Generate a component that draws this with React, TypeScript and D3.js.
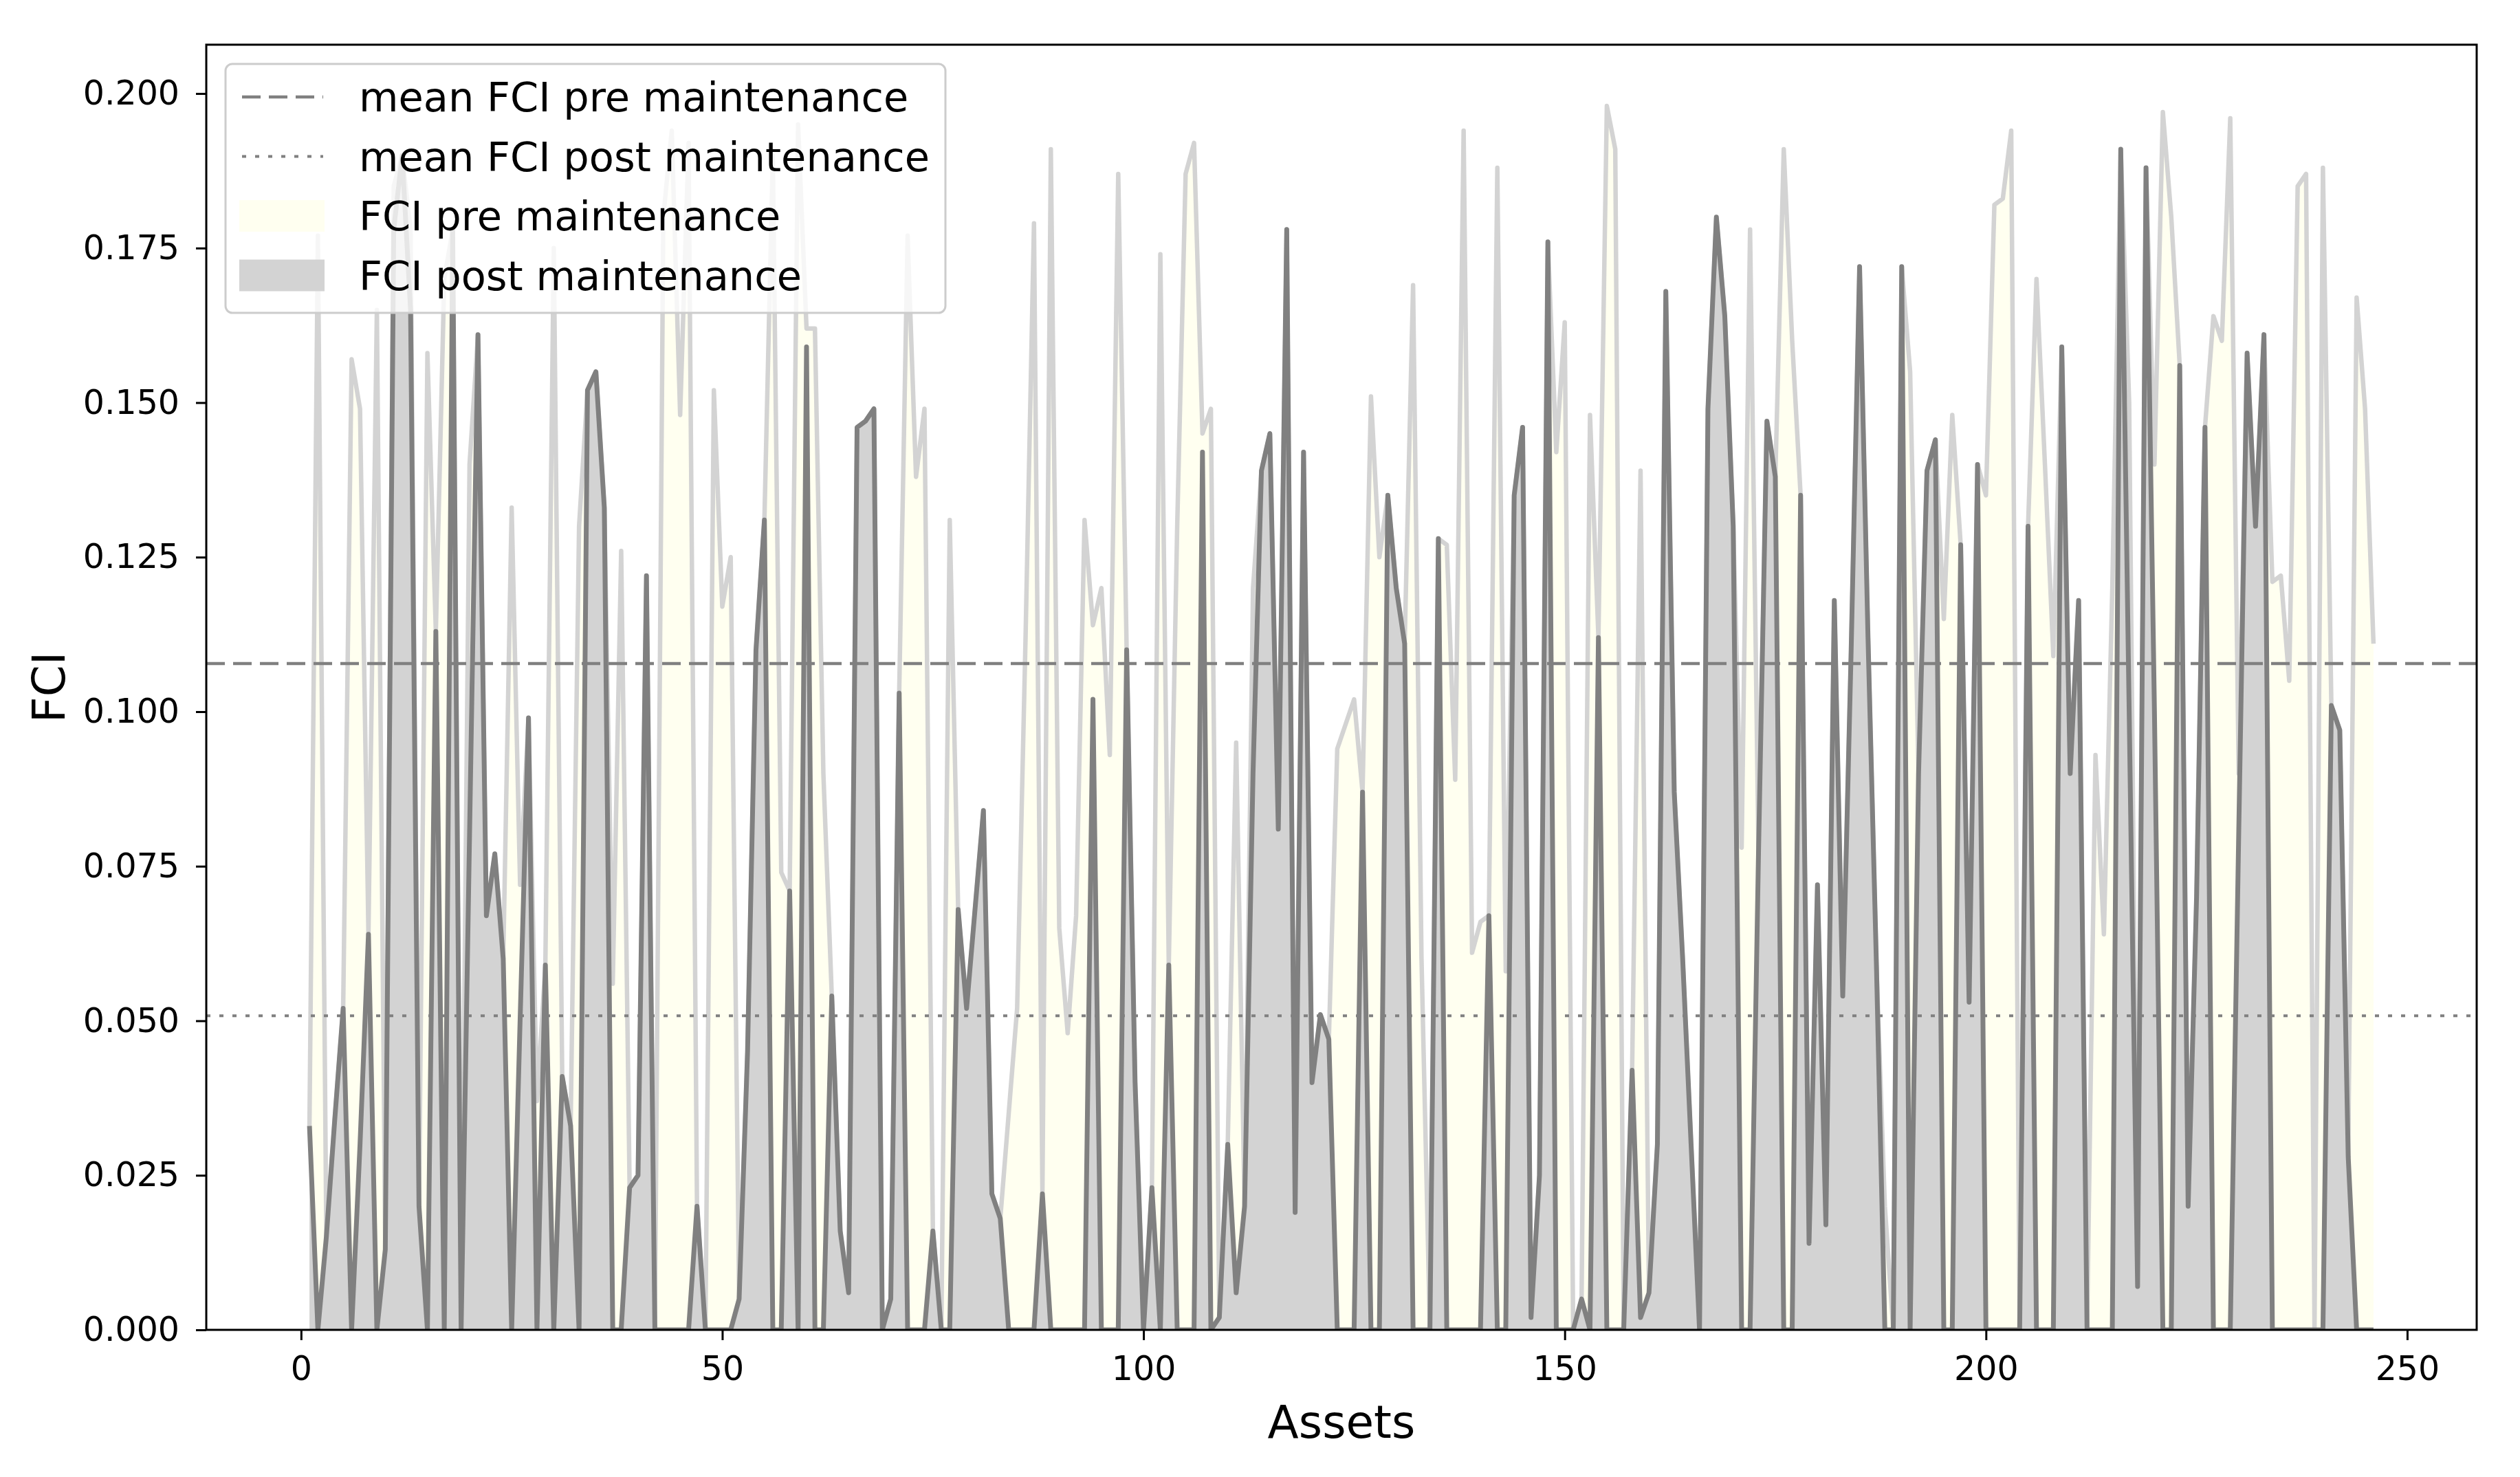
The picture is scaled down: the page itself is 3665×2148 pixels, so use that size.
import { useEffect, useRef } from "react";
import * as d3 from "d3";

const WIDTH = 3665;
const HEIGHT = 2148;
const MARGIN = { top: 65, right: 63, bottom: 214, left: 300 };

// FCI per asset (asset ids start at 1)
const FCI_PRE = [
  0.033, 0.177, 0.015, 0.034, 0.052, 0.157, 0.149, 0.064, 0.165, 0.013,
  0.185, 0.19, 0.178, 0.02, 0.158, 0.113, 0.17, 0.178, 0, 0.14,
  0.161, 0.067, 0.077, 0.06, 0.133, 0.072, 0.099, 0.037, 0.059, 0.175,
  0.041, 0.033, 0.13, 0.152, 0.155, 0.133, 0.056, 0.126, 0.023, 0.025,
  0.122, 0, 0.18, 0.194, 0.148, 0.192, 0.02, 0, 0.152, 0.117,
  0.125, 0.005, 0.045, 0.11, 0.131, 0.19, 0.074, 0.071, 0.195, 0.162,
  0.162, 0.09, 0.054, 0.016, 0.006, 0.146, 0.147, 0.149, 0, 0.005,
  0.103, 0.177, 0.138, 0.149, 0.016, 0, 0.131, 0.068, 0.052, 0.068,
  0.084, 0.022, 0.018, 0.035, 0.052, 0.112, 0.179, 0.022, 0.191, 0.065,
  0.048, 0.067, 0.131, 0.114, 0.12, 0.093, 0.187, 0.11, 0.04, 0,
  0.023, 0.174, 0.059, 0.13, 0.187, 0.192, 0.145, 0.149, 0.002, 0.03,
  0.095, 0.02, 0.12, 0.139, 0.145, 0.081, 0.178, 0.019, 0.142, 0.04,
  0.051, 0.047, 0.094, 0.098, 0.102, 0.087, 0.151, 0.125, 0.135, 0.12,
  0.111, 0.169, 0.06, 0, 0.128, 0.127, 0.089, 0.194, 0.061, 0.066,
  0.067, 0.188, 0.058, 0.135, 0.146, 0.002, 0.025, 0.176, 0.142, 0.163,
  0, 0.005, 0.148, 0.112, 0.198, 0.191, 0, 0.042, 0.139, 0.006,
  0.03, 0.168, 0.087, 0.06, 0.03, 0, 0.149, 0.18, 0.164, 0.13,
  0.078, 0.178, 0.077, 0.147, 0.138, 0.191, 0.16, 0.135, 0.014, 0.072,
  0.017, 0.118, 0.054, 0.11, 0.172, 0.112, 0.059, 0.02, 0, 0.172,
  0.155, 0.09, 0.139, 0.144, 0.115, 0.148, 0.127, 0.053, 0.14, 0.135,
  0.182, 0.183, 0.194, 0, 0.13, 0.17, 0.14, 0.109, 0.159, 0.09,
  0.118, 0, 0.093, 0.064, 0.12, 0.191, 0.15, 0.007, 0.188, 0.14,
  0.197, 0.18, 0.156, 0.02, 0.07, 0.146, 0.164, 0.16, 0.196, 0.09,
  0.158, 0.13, 0.161, 0.121, 0.122, 0.105, 0.185, 0.187, 0, 0.188,
  0.101, 0.097, 0.028, 0.167, 0.149, 0.111,
];

const FCI_POST = [
  0.033, 0, 0.015, 0.034, 0.052, 0, 0.03, 0.064, 0, 0.013,
  0.178, 0.19, 0.165, 0.02, 0, 0.113, 0, 0.178, 0, 0.08,
  0.161, 0.067, 0.077, 0.06, 0, 0.05, 0.099, 0, 0.059, 0,
  0.041, 0.033, 0, 0.152, 0.155, 0.133, 0, 0, 0.023, 0.025,
  0.122, 0, 0, 0, 0, 0, 0.02, 0, 0, 0,
  0, 0.005, 0.045, 0.11, 0.131, 0, 0, 0.071, 0, 0.159,
  0, 0, 0.054, 0.016, 0.006, 0.146, 0.147, 0.149, 0, 0.005,
  0.103, 0, 0, 0, 0.016, 0, 0, 0.068, 0.052, 0.068,
  0.084, 0.022, 0.018, 0, 0, 0, 0, 0.022, 0, 0,
  0, 0, 0, 0.102, 0, 0, 0, 0.11, 0.04, 0,
  0.023, 0, 0.059, 0, 0, 0, 0.142, 0, 0.002, 0.03,
  0.006, 0.02, 0.09, 0.139, 0.145, 0.081, 0.178, 0.019, 0.142, 0.04,
  0.051, 0.047, 0, 0, 0, 0.087, 0, 0, 0.135, 0.12,
  0.111, 0, 0, 0, 0.128, 0, 0, 0, 0, 0,
  0.067, 0, 0, 0.135, 0.146, 0.002, 0.025, 0.176, 0, 0,
  0, 0.005, 0, 0.112, 0, 0, 0, 0.042, 0.002, 0.006,
  0.03, 0.168, 0.087, 0.06, 0.03, 0, 0.149, 0.18, 0.164, 0.13,
  0, 0, 0.077, 0.147, 0.138, 0, 0, 0.135, 0.014, 0.072,
  0.017, 0.118, 0.054, 0.11, 0.172, 0.112, 0.059, 0, 0, 0.172,
  0, 0.09, 0.139, 0.144, 0, 0, 0.127, 0.053, 0.14, 0,
  0, 0, 0, 0, 0.13, 0, 0, 0, 0.159, 0.09,
  0.118, 0, 0, 0, 0, 0.191, 0.1, 0.007, 0.188, 0.1,
  0, 0, 0.156, 0.02, 0.07, 0.146, 0, 0, 0, 0.08,
  0.158, 0.13, 0.161, 0, 0, 0, 0, 0, 0, 0,
  0.101, 0.097, 0.028, 0, 0, 0,
];

const MEAN_PRE = 0.1078;
const MEAN_POST = 0.0508;

const X_TICKS = [0, 50, 100, 150, 200, 250];
const Y_TICKS = [0, 0.025, 0.05, 0.075, 0.1, 0.125, 0.15, 0.175, 0.2];

const LEGEND_ITEMS = [
  { label: "mean FCI pre maintenance", kind: "dashed" },
  { label: "mean FCI post maintenance", kind: "dotted" },
  { label: "FCI pre maintenance", kind: "prePatch" },
  { label: "FCI post maintenance", kind: "postPatch" },
];

const FONT = "DejaVu Sans, Verdana, sans-serif";
const PRE_FILL = "#fffff0";
const PRE_LINE = "#d3d3d3";
const POST_FILL = "#d3d3d3";
const POST_LINE = "#808080";
const MEAN_LINE = "#808080";
const DASHED = "27,12";
const DOTTED = "6,13";

type Point = { x: number; y: number };

export default function App() {
  const xAxisRef = useRef<SVGGElement>(null);
  const yAxisRef = useRef<SVGGElement>(null);

  const boundsWidth = WIDTH - MARGIN.left - MARGIN.right;
  const boundsHeight = HEIGHT - MARGIN.top - MARGIN.bottom;

  const pre: Point[] = FCI_PRE.map((v, i) => ({ x: i + 1, y: v }));
  const post: Point[] = FCI_POST.map((v, i) => ({ x: i + 1, y: v }));

  // matplotlib style 5% x margins, y from 0 with 5% headroom
  const n = FCI_PRE.length;
  const pad = (n - 1) * 0.05;
  const xScale = d3
    .scaleLinear()
    .domain([1 - pad, n + pad])
    .range([0, boundsWidth]);
  const yMax = (d3.max(FCI_PRE) || 0) * 1.05;
  const yScale = d3.scaleLinear().domain([0, yMax]).range([boundsHeight, 0]);

  const area = d3
    .area<Point>()
    .x((d) => xScale(d.x))
    .y0(yScale(0))
    .y1((d) => yScale(d.y));
  const line = d3
    .line<Point>()
    .x((d) => xScale(d.x))
    .y((d) => yScale(d.y));

  useEffect(() => {
    const xg = d3.select(xAxisRef.current);
    xg.selectAll("*").remove();
    xg.call(
      d3.axisBottom(xScale).tickValues(X_TICKS).tickSize(15).tickPadding(23).tickFormat(d3.format("d"))
    );
    const yg = d3.select(yAxisRef.current);
    yg.selectAll("*").remove();
    yg.call(
      d3.axisLeft(yScale).tickValues(Y_TICKS).tickSize(15).tickPadding(24).tickFormat(d3.format(".3f"))
    );
    [xg, yg].forEach((g) => {
      g.select(".domain").remove();
      g.selectAll(".tick line").attr("stroke", "#000").attr("stroke-width", 3);
      g.selectAll(".tick text")
        .attr("fill", "#000")
        .style("font-family", FONT)
        .style("font-size", "49px");
    });
  }, [xScale, yScale]);

  const legendX = 328;
  const legendY = 93;
  const rowY = (i: number) => 141 + i * 86.5;

  return (
    <div>
      <style>{`body{margin:0;background:#fff}`}</style>
      <svg width={WIDTH} height={HEIGHT} style={{ display: "block" }}>
        <rect width={WIDTH} height={HEIGHT} fill="#fff" />
        <defs>
          <clipPath id="plot-clip">
            <rect width={boundsWidth} height={boundsHeight} />
          </clipPath>
        </defs>
        <g transform={`translate(${MARGIN.left},${MARGIN.top})`}>
          <g clipPath="url(#plot-clip)">
            <path d={area(pre) || ""} fill={PRE_FILL} />
            <path
              d={line(pre) || ""}
              fill="none"
              stroke={PRE_LINE}
              strokeWidth={6.5}
              strokeLinejoin="round"
            />
            <path d={area(post) || ""} fill={POST_FILL} />
            <path
              d={line(post) || ""}
              fill="none"
              stroke={POST_LINE}
              strokeWidth={7}
              strokeLinejoin="round"
            />
            <line
              x1={0}
              x2={boundsWidth}
              y1={yScale(MEAN_PRE)}
              y2={yScale(MEAN_PRE)}
              stroke={MEAN_LINE}
              strokeWidth={4.5}
              strokeDasharray={DASHED}
            />
            <line
              x1={0}
              x2={boundsWidth}
              y1={yScale(MEAN_POST)}
              y2={yScale(MEAN_POST)}
              stroke={MEAN_LINE}
              strokeWidth={4}
              strokeDasharray={DOTTED}
            />
          </g>
          <g ref={xAxisRef} transform={`translate(0,${boundsHeight})`} />
          <g ref={yAxisRef} />
          <rect
            width={boundsWidth}
            height={boundsHeight}
            fill="none"
            stroke="#000"
            strokeWidth={3}
          />
        </g>

        {/* legend */}
        <g>
          <rect
            x={legendX}
            y={legendY}
            width={1047}
            height={362}
            rx={10}
            fill="#fff"
            fillOpacity={0.8}
            stroke="#cccccc"
            strokeWidth={3}
          />
          {LEGEND_ITEMS.map((item, i) => {
            const cy = rowY(i);
            return (
              <g key={item.label}>
                {item.kind === "dashed" && (
                  <line x1={352} x2={470} y1={cy} y2={cy} stroke={MEAN_LINE} strokeWidth={4.5} strokeDasharray={DASHED} />
                )}
                {item.kind === "dotted" && (
                  <line x1={352} x2={470} y1={cy} y2={cy} stroke={MEAN_LINE} strokeWidth={4} strokeDasharray={DOTTED} />
                )}
                {item.kind === "prePatch" && (
                  <rect x={348} y={cy - 23} width={124} height={46} fill={PRE_FILL} />
                )}
                {item.kind === "postPatch" && (
                  <rect x={348} y={cy - 23} width={124} height={46} fill={POST_FILL} />
                )}
                <text
                  x={522}
                  y={cy + 21}
                  fontFamily={FONT}
                  fontSize={59}
                  fill="#000"
                >
                  {item.label}
                </text>
              </g>
            );
          })}
        </g>

        {/* axis labels */}
        <text
          x={MARGIN.left + boundsWidth / 2}
          y={2091}
          textAnchor="middle"
          fontFamily={FONT}
          fontSize={66}
          fill="#000"
        >
          Assets
        </text>
        <text
          transform={`translate(94,${MARGIN.top + boundsHeight / 2}) rotate(-90)`}
          textAnchor="middle"
          fontFamily={FONT}
          fontSize={66}
          fill="#000"
        >
          FCI
        </text>
      </svg>
    </div>
  );
}
